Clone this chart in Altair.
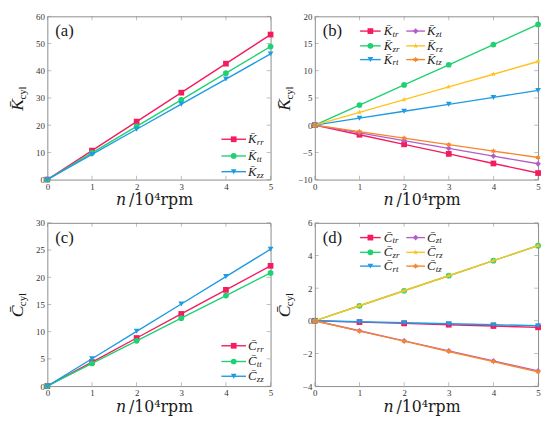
import math
import altair as alt
import pandas as pd

# ---------------- data ----------------
n = [0, 1, 2, 3, 4, 5]

# (a) stiffness, diagonal
Ka_rr = [0, 10.65, 21.3, 31.95, 42.6, 53.3]
Ka_tt = [0, 9.78, 19.55, 29.3, 39.1, 48.9]
Ka_zz = [0, 9.25, 18.5, 27.7, 36.95, 46.2]
# (b) stiffness, cross terms
Kb_tr = [0, -1.76, -3.52, -5.28, -7.04, -8.8]
Kb_zr = [0, 3.7, 7.4, 11.1, 14.8, 18.5]
Kb_rt = [0, 1.28, 2.55, 3.83, 5.1, 6.38]
Kb_zt = [0, -1.42, -2.84, -4.26, -5.68, -7.1]
Kb_rz = [0, 2.34, 4.68, 7.02, 9.36, 11.7]
Kb_tz = [0, -1.19, -2.38, -3.57, -4.76, -5.95]
# (c) damping, diagonal
Cc_rr = [0, 4.42, 8.84, 13.26, 17.68, 22.1]
Cc_tt = [0, 4.16, 8.32, 12.48, 16.64, 20.8]
Cc_zz = [0, 5.03, 10.06, 15.09, 20.12, 25.15]
# (d) damping, cross terms
Cd_tr = [0, -0.08, -0.16, -0.24, -0.32, -0.40]
Cd_zr = [0, 0.92, 1.84, 2.76, 3.68, 4.6]
Cd_rt = [0, -0.06, -0.12, -0.18, -0.24, -0.30]
Cd_zt = [0, -0.61, -1.23, -1.84, -2.46, -3.07]
Cd_rz = [0, 0.92, 1.84, 2.76, 3.68, 4.6]
Cd_tz = [0, -0.63, -1.25, -1.88, -2.5, -3.13]

x_ticks = [0, 1, 2, 3, 4, 5]
ya_ticks = [0, 10, 20, 30, 40, 50, 60]
yb_ticks = [-10, -5, 0, 5, 10, 15, 20]
yc_ticks = [0, 5, 10, 15, 20, 25, 30]
yd_ticks = [-4, -2, 0, 2, 4, 6]

# ---------------- styles ----------------
RED = "#F41C5E"
GREEN = "#1FD172"
BLUE = "#1E9BE3"
PURPLE = "#B55EC9"
YELLOW = "#FFC31F"
ORANGE = "#F7862A"


def star_path(npts, r_in):
    pts = []
    for i in range(2 * npts):
        r = 1.0 if i % 2 == 0 else r_in
        a = -math.pi / 2 + i * math.pi / npts
        pts.append(f"{r * math.cos(a):.3f},{r * math.sin(a):.3f}")
    return "M" + "L".join(pts) + "Z"


PENT = star_path(5, 0.40)
HEXA = star_path(6, 0.55)

FONT = "Liberation Serif"
FONT2 = "DejaVu Serif"
W, H = 227, 166
FRAME = "#8c8c8c"
LABEL = "#333333"
TXT = "#1a1a1a"
MSIZE = 34


def panel(series, ydom, yticks, tag, letter, leg_rows, leg_cols):
    layers = []
    xsc = alt.Scale(domain=[0, 5], nice=False)
    ysc = alt.Scale(domain=ydom, nice=False, zero=False)
    xax = alt.Axis(values=x_ticks, title=None, format="d")
    yax = alt.Axis(values=yticks, title=None, format="d")
    for sub, vals, color, shape in series:
        df = pd.DataFrame({"n": n, "v": vals})
        base = alt.Chart(df).encode(
            x=alt.X("n:Q", scale=xsc, axis=xax),
            y=alt.Y("v:Q", scale=ysc, axis=yax),
        )
        layers.append(base.mark_line(color=color, strokeWidth=1.4, clip=True))
        layers.append(base.mark_point(shape=shape, filled=True, color=color,
                                      size=MSIZE, opacity=1))

    # inward ticks (box on all sides)
    ytdf = pd.DataFrame({"v": yticks})
    xtdf = pd.DataFrame({"n": x_ticks})
    for xv in (2, W - 2):
        layers.append(alt.Chart(ytdf).mark_tick(orient="horizontal", size=4, thickness=0.8,
                                                color=FRAME)
                      .encode(y=alt.Y("v:Q", scale=ysc, axis=yax), x=alt.value(xv)))
    for yv in (2, H - 2):
        layers.append(alt.Chart(xtdf).mark_tick(orient="vertical", size=4, thickness=0.8,
                                                color=FRAME)
                      .encode(x=alt.X("n:Q", scale=xsc, axis=xax), y=alt.value(yv)))

    # legend
    rows = []
    for i, (sub, vals, color, shape) in enumerate(series):
        c = i // len(leg_rows)
        r = i % len(leg_rows)
        x1, x2, tx = leg_cols[c]
        y = leg_rows[r]
        rows.append({"x1": x1, "x2": x2, "xm": (x1 + x2) / 2, "y": y, "tx": tx,
                     "sx": tx + 9, "sy": y + 3, "color": color, "shape": shape,
                     "main": letter, "sub": sub})
    ldf = pd.DataFrame(rows)
    lb = alt.Chart(ldf)
    layers.append(lb.mark_rule(strokeWidth=1.4).encode(
        x=alt.X("x1:Q", scale=None), x2="x2:Q", y=alt.Y("y:Q", scale=None),
        color=alt.Color("color:N", scale=None)))
    layers.append(lb.mark_point(filled=True, size=MSIZE, opacity=1).encode(
        x=alt.X("xm:Q", scale=None), y=alt.Y("y:Q", scale=None),
        color=alt.Color("color:N", scale=None), shape=alt.Shape("shape:N", scale=None)))
    layers.append(lb.mark_text(font=FONT, fontStyle="italic", fontSize=13, align="left",
                               baseline="middle", color=TXT).encode(
        x=alt.X("tx:Q", scale=None), y=alt.Y("y:Q", scale=None), text="main:N"))
    layers.append(lb.mark_text(font=FONT, fontStyle="italic", fontSize=9, align="left",
                               baseline="middle", color=TXT).encode(
        x=alt.X("sx:Q", scale=None), y=alt.Y("sy:Q", scale=None), text="sub:N"))

    one = pd.DataFrame({"a": [0]})
    # panel tag
    layers.append(alt.Chart(one).mark_text(text=tag, font=FONT, fontSize=17, align="left",
                                           baseline="top", color=TXT)
                  .encode(x=alt.value(8), y=alt.value(7)))
    # y title
    layers.append(alt.Chart(one).mark_text(text=letter, font=FONT, fontStyle="italic",
                                           fontSize=18, angle=270, align="center",
                                           baseline="middle", color=TXT)
                  .encode(x=alt.value(-30), y=alt.value(H / 2 + 7)))
    layers.append(alt.Chart(one).mark_text(text="cyl", font=FONT, fontSize=11, angle=270,
                                           align="center", baseline="middle", color=TXT)
                  .encode(x=alt.value(-25), y=alt.value(H / 2 - 5)))
    # x title
    layers.append(alt.Chart(one).mark_text(text="n", font=FONT2, fontStyle="italic",
                                           fontSize=16, align="right",
                                           baseline="alphabetic", color=TXT)
                  .encode(x=alt.value(80), y=alt.value(H + 26)))
    layers.append(alt.Chart(one).mark_text(text="/10\u2074rpm", font=FONT2, fontSize=16,
                                           align="left", baseline="alphabetic", color=TXT)
                  .encode(x=alt.value(83), y=alt.value(H + 26)))

    return alt.layer(*layers).properties(width=W, height=H)


K = "K\u0304"
C = "C\u0304"
rows3 = [125, 142, 158]
rows3c = [125, 141, 156]
cols1 = [(177, 202, 204)]
rows6 = [15, 30, 44]
cols2 = [(46, 67, 70), (93, 112, 114)]

pa = panel([("rr", Ka_rr, RED, "square"), ("tt", Ka_tt, GREEN, "circle"),
            ("zz", Ka_zz, BLUE, "triangle-down")],
           [0, 60], ya_ticks, "(a)", K, rows3, cols1)
pb = panel([("tr", Kb_tr, RED, "square"), ("zr", Kb_zr, GREEN, "circle"),
            ("rt", Kb_rt, BLUE, "triangle-down"), ("zt", Kb_zt, PURPLE, "diamond"),
            ("rz", Kb_rz, YELLOW, PENT), ("tz", Kb_tz, ORANGE, HEXA)],
           [-10, 20], yb_ticks, "(b)", K, rows6, cols2)
pc = panel([("rr", Cc_rr, RED, "square"), ("tt", Cc_tt, GREEN, "circle"),
            ("zz", Cc_zz, BLUE, "triangle-down")],
           [0, 30], yc_ticks, "(c)", C, rows3c, cols1)
pd_ = panel([("tr", Cd_tr, RED, "square"), ("zr", Cd_zr, GREEN, "circle"),
             ("rt", Cd_rt, BLUE, "triangle-down"), ("zt", Cd_zt, PURPLE, "diamond"),
             ("rz", Cd_rz, YELLOW, PENT), ("tz", Cd_tz, ORANGE, HEXA)],
            [-4, 6], yd_ticks, "(d)", C, rows6, cols2)

chart = alt.concat(
    pa, pb, pc, pd_, columns=2,
    spacing={"row": 44, "column": 45}, bounds="flush",
).properties(
    padding={"left": 0, "top": 0, "right": 0, "bottom": 0},
    background="white",
).configure_view(
    stroke=FRAME, strokeWidth=1,
).configure_axis(
    grid=False, domain=False, ticks=False, labelFont=FONT, labelFontSize=9,
    labelColor=LABEL, labelPadding=3, labelOverlap=False, labelBound=False,
    labelFlush=False,
)

chart.save("out.html", embed_options={"renderer": "svg", "actions": False})
